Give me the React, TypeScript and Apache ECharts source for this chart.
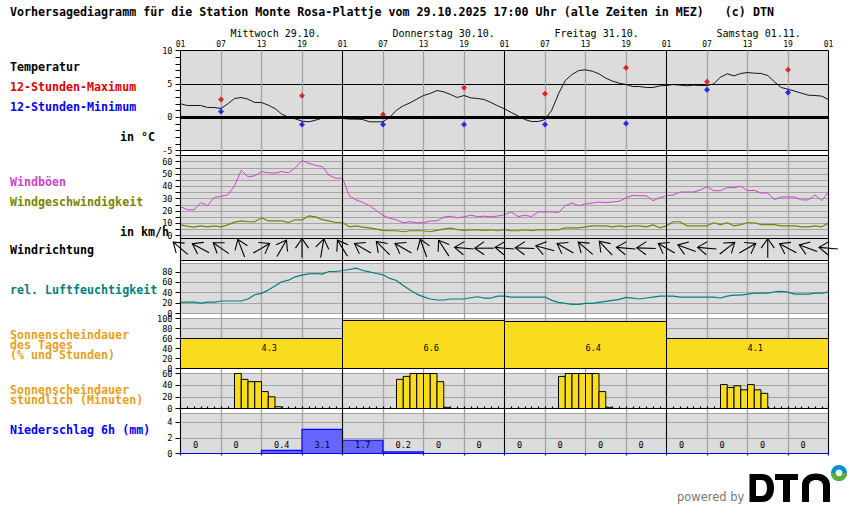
import { useEffect, useRef } from "react";
import * as echarts from "echarts";

const titleText = "Vorhersagediagramm für die Station Monte Rosa-Plattje vom 29.10.2025 17:00 Uhr (alle Zeiten in MEZ)   (c) DTN";
const dayLabels = ["Mittwoch 29.10.", "Donnerstag 30.10.", "Freitag 31.10.", "Samstag 01.11."];
const hourLabels = ["01", "07", "13", "19", "01", "07", "13", "19", "01", "07", "13", "19", "01", "07", "13", "19", "01"];

// hourly from 01:00 on Wednesday
const temperature = [
  2.0, 1.75, 1.75, 1.75, 1.45, 1.45, 1.3, 2.0, 2.8, 2.95,
  2.7, 2.2, 2.2, 1.8, 1.3, 0.45, 0, -0.25, -0.6, -0.7,
  -0.45, -0.15, 0, 0, -0.2, -0.3, -0.3, -0.35, -0.7, -0.7,
  -0.7, 0, 1.05, 1.7, 2.15, 2.7, 3.25, 3.55, 4.0, 3.8,
  3.4, 2.95, 3.25, 2.9, 2.8, 2.65, 2.2, 1.7, 1.25, 0.7,
  0.2, -0.35, -0.65, -0.65, -0.35, 1.05, 3.5, 5.5, 6.4, 7.0,
  7.1, 6.9, 6.5, 5.85, 5.4, 5.1, 4.9, 4.6, 4.6, 4.45,
  4.45, 4.7, 4.75, 4.9, 4.8, 4.7, 4.8, 4.75, 4.75, 5.0,
  6, 6.5, 6.2, 6.55, 6.7, 6.6, 6.55, 6.25, 5.3, 4.45,
  4.2, 3.9, 3.6, 3.3, 3.25, 3.15, 2.65,
];
const extremeHours = [6, 18, 30, 42, 54, 66, 78, 90];
const tempMax = [2.65, 3.2, 0.4, 4.4, 3.5, 7.4, 5.3, 7.1];
const tempMin = [0.85, -1.1, -1.1, -1.1, -1.1, -0.95, 4.1, 3.7];

const gusts = [
  23.6, 21, 21, 26.8, 24.4, 31, 32, 33, 40.5, 53,
  47.7, 48.5, 52, 51, 50.7, 52, 51, 55, 61, 58.7,
  57, 56, 49, 46.6, 46.6, 32.4, 29, 27, 24.4, 20.4,
  16.4, 14.2, 12.9, 10.5, 11.3, 10.5, 10.5, 12, 12, 15,
  15.8, 14.5, 15.3, 16.6, 15.5, 15.8, 15.3, 16, 16.9, 19.3,
  15.5, 16.6, 15.5, 19.3, 19.3, 19.3, 18.8, 24.4, 26.5, 24.4,
  25.7, 26.5, 27.3, 26.8, 27.3, 27.9, 30.6, 32.7, 32.4, 32.4,
  28.4, 30.8, 32.4, 33, 35.4, 35.4, 35.4, 37, 39.7, 36.5,
  36.5, 39, 38.9, 40, 36.5, 36.7, 34.6, 34.6, 29.2, 31.4,
  31.4, 31.4, 29, 29, 33, 28.4, 35.4,
];
const windSpeed = [
  8.8, 7.8, 7, 8, 7.2, 8, 7.2, 8.8, 11, 12,
  11.3, 11.3, 14.5, 12, 12, 12, 10.7, 12.9, 12.9, 16,
  15.3, 13, 12, 10.7, 10.7, 7.2, 8, 7, 6.4, 5.4,
  4.3, 4, 4, 3.2, 4, 4, 4, 3.2, 4.3, 5.4,
  6.2, 5, 4.3, 4.8, 4.8, 4.3, 4.8, 4, 4.8, 4,
  4, 4.8, 4, 4.8, 4.8, 4.8, 4.8, 6.4, 6.4, 6.4,
  7.2, 8, 8, 8, 7.2, 8, 7.2, 8, 8, 7.2,
  8.8, 6.4, 8, 11.3, 11.3, 8, 8, 8, 8, 10.5,
  9, 10.5, 8, 9, 10.5, 10.5, 9, 9, 9, 8,
  8, 8, 7.2, 7.2, 8, 7.2, 10.2,
];
// compass bearing the arrow points to, every 3 hours
const windArrows = [
  310, 298, 305, 339, 60, 30, 0, 10, 328, 300, 315,
  300, 340, 327, 275, 270, 275, 272, 285, 300, 310, 317,
  275, 272, 300, 290, 275, 52, 60, 0, 298, 290, 275,
];
const humidity = [
  21.4, 22, 22, 20, 22, 22, 24, 24, 24, 24,
  27.8, 36, 38.6, 45, 53, 61, 64, 70.4, 73.6, 76,
  76.8, 75.5, 80.6, 80.6, 82.5, 84.5, 87, 82.5, 80, 76.8,
  74.3, 67.3, 63.4, 53.9, 45, 37.3, 32, 27.8, 25.9, 25.9,
  27.8, 27.8, 27.8, 30.3, 32.2, 29.7, 29.7, 33.5, 33.5, 31.6,
  31.6, 31.6, 31.6, 31.6, 31.6, 25.2, 21.4, 19.5, 17.6, 17.6,
  19.5, 19.5, 21.4, 23.3, 25.2, 27, 31, 29.7, 27.8, 29.7,
  31.6, 33.5, 33.5, 33.5, 31.6, 31.6, 31.6, 31.6, 31.6, 31.6,
  29.7, 33.5, 35.4, 35.4, 37.3, 39.2, 39.2, 39.2, 41.8, 42.4,
  41, 37.3, 37.3, 37.3, 39.2, 39.2, 41,
];
const sunDayPercent = [60, 96, 94, 60];
const sunDayHours = ["4.3", "6.6", "6.4", "4.1"];
const sunHourMinutes = [
  0, 0, 0, 0, 0, 0, 0, 0, 60, 50, 46, 46, 29, 20, 3, 0, 0, 0, 0, 0, 0, 0, 0, 0,
  0, 0, 0, 0, 0, 0, 0, 0, 50, 55, 60, 60, 60, 60, 46, 2, 0, 0, 0, 0, 0, 0, 0, 0,
  0, 0, 0, 0, 0, 0, 0, 0, 55, 60, 60, 60, 60, 60, 29, 2, 0, 0, 0, 0, 0, 0, 0, 0,
  0, 0, 0, 0, 0, 0, 0, 0, 41, 36, 39, 32, 41, 32, 26, 0, 0, 0, 0, 0, 0, 0, 0, 0,
];
const precip = [0, 0, 0.4, 3.1, 1.7, 0.2, 0, 0, 0, 0, 0, 0, 0, 0, 0, 0];

const LEFT = 180.5;
const WIDTH = 648;
const MONO = '"DejaVu Sans Mono", "Liberation Mono", monospace';
const GREY = "#a4a4a4";
const PANEL = "#dcdcdc";
const YELLOW = "#f9dc1e";
const TICK_FONT = 8.6;

const DTN_LOGO =
  "M749.5 474H762C770 474 774 480 774 488C774 496 770 502 762 502H749.5Z" +
  "M756 480V496H761C765 496 767 493 767 488C767 483 765 480 761 480Z" +
  "M775 474H798V480H790V502H783V480H775Z" +
  "M802 502V485C802 478 808 473.5 816 473.5C824 473.5 830 478 830 485V502H823V486C823 482 820 480 816 480C812 480 809 482 809 486V502Z";
echarts.graphic.registerShape("dtnLogo", echarts.graphic.extendPath(DTN_LOGO, {}));

const hourly = (values: number[]) => values.map((v, i) => [i, v]);

function sideLabel(text: string, x: number, y: number, fill: string) {
  return {
    type: "text",
    x,
    y,
    silent: true,
    style: { text, fill, font: `bold 11.65px ${MONO}`, lineHeight: 9, textVerticalAlign: "middle" },
  };
}

function panelXAxis(gridIndex: number, extra: object = {}) {
  return {
    type: "value",
    gridIndex,
    min: 0,
    max: 96,
    interval: 6,
    axisLabel: { show: false },
    axisTick: { show: false },
    axisLine: { show: false },
    splitLine: { show: false },
    ...extra,
  };
}

const tickLabel = { color: "#000", fontFamily: MONO, fontSize: TICK_FONT, margin: 8 };

function panelYAxis(gridIndex: number, min: number, max: number, interval: number, extra: object = {}) {
  return {
    type: "value",
    gridIndex,
    min,
    max,
    interval,
    axisLine: { show: true, lineStyle: { color: "#000" } },
    axisTick: { show: true, length: 5, lineStyle: { color: "#000" } },
    axisLabel: { ...tickLabel, showMaxLabel: false },
    splitLine: { show: true, lineStyle: { color: GREY, width: 1 } },
    ...extra,
  };
}

// spans one bar from hour start to hour end, through the panel's own axes
function spanBars(stroke: string, fill: string, lineWidth: number, labelOf?: (i: number) => string, labelAt?: (api: any, start: number, end: number) => number[]) {
  return (params: any, api: any) => {
    const start = api.value(0);
    const end = api.value(1);
    const a = api.coord([start, api.value(2)]);
    const b = api.coord([end, 0]);
    const children: any[] = [
      {
        type: "rect",
        shape: { x: a[0], y: a[1], width: b[0] - a[0], height: b[1] - a[1] },
        style: { fill, stroke, lineWidth },
      },
    ];
    if (labelOf && labelAt) {
      const pos = labelAt(api, start, end);
      children.push({
        type: "text",
        x: pos[0],
        y: pos[1],
        style: { text: labelOf(params.dataIndex), fill: "#000", font: `${TICK_FONT}px ${MONO}`, textVerticalAlign: "middle" },
      });
    }
    return { type: "group", children };
  };
}

function renderArrow(params: any, api: any) {
  const [cx, cy] = api.coord([api.value(0), 12.3]);
  const rad = (api.value(1) * Math.PI) / 180;
  const ux = Math.sin(rad);
  const uy = -Math.cos(rad);
  const tip = [cx + ux * 9.5, cy + uy * 9.5];
  const tail = [cx - ux * 9.5, cy - uy * 9.5];
  const barb = (sign: number) => {
    const a = rad + Math.PI + (sign * 35 * Math.PI) / 180;
    return [tip[0] + Math.sin(a) * 11.5, tip[1] - Math.cos(a) * 11.5];
  };
  const style = { stroke: "#000", lineWidth: 1.1, fill: "none" };
  return {
    type: "group",
    children: [
      { type: "polyline", shape: { points: [tail, tip] }, style },
      { type: "polyline", shape: { points: [barb(1), tip, barb(-1)] }, style },
    ],
  };
}

const flatMark = (data: object[], color = "#000", width = 1) => ({
  silent: true,
  symbol: "none",
  animation: false,
  label: { show: false },
  lineStyle: { color, width, type: "solid" },
  data,
});

export default function App() {
  const ref = useRef<HTMLDivElement>(null);

  useEffect(() => {
    document.body.style.margin = "0";
    const el = ref.current;
    if (!el) return;
    const chart = echarts.init(el, undefined, { renderer: "svg" });

    const panel = (top: number, bottom: number, border = true) => ({
      left: LEFT,
      width: WIDTH,
      top,
      height: bottom - top,
      show: true,
      backgroundColor: PANEL,
      borderColor: "#000",
      borderWidth: border ? 1 : 0,
    });

    chart.setOption({
      animation: false,
      backgroundColor: "#fff",
      grid: [
        panel(50.5, 150.5),
        panel(155.5, 235.7, false),
        panel(235.7, 260.5, false),
        panel(263.5, 313.5),
        panel(318.5, 368.5),
        panel(373.5, 408.5),
        panel(413.5, 453.5),
        { left: LEFT, width: WIDTH, top: 50.5, height: 403, show: false },
      ],
      xAxis: [
        panelXAxis(0),
        panelXAxis(1),
        panelXAxis(2),
        panelXAxis(3),
        panelXAxis(4),
        panelXAxis(5, {
          axisLine: { show: true, onZero: true, lineStyle: { color: "#000", width: 1 } },
          axisTick: { show: true, inside: true, length: 2, lineStyle: { color: "#000", width: 1.2 } },
          minorTick: { show: true, splitNumber: 6, length: 2, lineStyle: { color: "#000", width: 1.2 } },
        }),
        panelXAxis(6, {
          axisLine: { show: true, onZero: true, lineStyle: { color: "#0000ff", width: 1.2 } },
          axisTick: { show: true, length: 2, lineStyle: { color: "#0000ff", width: 1.2 } },
        }),
        panelXAxis(7, {
          position: "top",
          axisLabel: {
            show: true,
            color: "#000",
            fontFamily: MONO,
            fontSize: 8,
            margin: 2,
            formatter: (v: number) => hourLabels[v / 6] ?? "",
          },
          splitLine: { show: true, lineStyle: { color: GREY, width: 1.3 } },
        }),
      ],
      yAxis: [
        panelYAxis(0, -5, 10, 5, {
          axisLabel: tickLabel,
          minorTick: { show: true, splitNumber: 5, length: 5, lineStyle: { color: "#000" } },
          splitLine: { show: true, lineStyle: { color: "#000", width: 1 } },
        }),
        panelYAxis(1, 0, 65, 5, {
          axisLabel: {
            ...tickLabel,
            formatter: (v: number) => (v % 10 === 0 ? String(v) : ""),
          },
        }),
        panelYAxis(2, 0, 24.8, 24.8, { axisLabel: { show: false }, axisTick: { show: false }, splitLine: { show: false } }),
        panelYAxis(3, 0, 96, 20),
        panelYAxis(4, 0, 100, 20, { axisLabel: tickLabel }),
        panelYAxis(5, 0, 60, 20, { axisLabel: tickLabel }),
        panelYAxis(6, 0, 5.13, 2),
        {
          type: "value",
          gridIndex: 7,
          min: 0,
          max: 1,
          axisLabel: { show: false },
          axisTick: { show: false },
          axisLine: { show: false },
          splitLine: { show: false },
        },
      ],
      series: [
        {
          type: "line",
          xAxisIndex: 0,
          yAxisIndex: 0,
          data: hourly(temperature),
          showSymbol: false,
          lineStyle: { color: "#000", width: 0.9 },
          markLine: flatMark([{ yAxis: 0 }], "#000", 3),
        },
        {
          type: "scatter",
          xAxisIndex: 0,
          yAxisIndex: 0,
          data: extremeHours.map((h, i) => [h, tempMax[i]]),
          symbol: "diamond",
          symbolSize: 6,
          itemStyle: { color: "#e00000" },
        },
        {
          type: "scatter",
          xAxisIndex: 0,
          yAxisIndex: 0,
          data: extremeHours.map((h, i) => [h, tempMin[i]]),
          symbol: "diamond",
          symbolSize: 6,
          itemStyle: { color: "#0000ff" },
        },
        {
          type: "line",
          xAxisIndex: 1,
          yAxisIndex: 1,
          data: hourly(gusts),
          showSymbol: false,
          lineStyle: { color: "#cc44cc", width: 1 },
          markLine: flatMark([{ yAxis: 65 }]),
        },
        {
          type: "line",
          xAxisIndex: 1,
          yAxisIndex: 1,
          data: hourly(windSpeed),
          showSymbol: false,
          lineStyle: { color: "#808000", width: 1.2 },
        },
        {
          type: "custom",
          xAxisIndex: 2,
          yAxisIndex: 2,
          data: windArrows.map((deg, i) => [i * 3, deg]),
          renderItem: renderArrow,
          clip: false,
          silent: true,
        },
        {
          type: "line",
          xAxisIndex: 2,
          yAxisIndex: 2,
          data: [[0, 0]],
          showSymbol: false,
          lineStyle: { width: 0 },
          markLine: flatMark([{ yAxis: 22.2 }, { yAxis: 0 }]),
        },
        {
          type: "line",
          xAxisIndex: 3,
          yAxisIndex: 3,
          data: hourly(humidity),
          showSymbol: false,
          lineStyle: { color: "#008080", width: 1.2 },
        },
        {
          type: "custom",
          xAxisIndex: 4,
          yAxisIndex: 4,
          data: sunDayPercent.map((p, i) => [i * 24, (i + 1) * 24, p]),
          renderItem: spanBars(
            "#000",
            YELLOW,
            1,
            (i) => sunDayHours[i],
            (api, start, end) => api.coord([(start + end) / 2, 42]),
          ),
          silent: true,
        },
        {
          type: "custom",
          xAxisIndex: 5,
          yAxisIndex: 5,
          data: hourly(sunHourMinutes)
            .filter((d) => d[1] > 0)
            .map((d) => [d[0], d[0] + 1, d[1]]),
          renderItem: spanBars("#000", YELLOW, 1),
          silent: true,
        },
        {
          type: "custom",
          xAxisIndex: 6,
          yAxisIndex: 6,
          data: precip.map((p, i) => [i * 6, (i + 1) * 6, p]),
          renderItem: spanBars(
            "#0000ff",
            "#6666ff",
            1.2,
            (i) => (precip[i] === 0 ? "0" : precip[i].toFixed(1)),
            (api, start) => api.coord([start + 1.85, 1.05]),
          ),
          silent: true,
        },
        {
          // black day boundaries running through all panels
          type: "line",
          xAxisIndex: 7,
          yAxisIndex: 7,
          data: [[0, 0]],
          showSymbol: false,
          lineStyle: { width: 0 },
          z: 5,
          markLine: flatMark([{ xAxis: 0 }, { xAxis: 24 }, { xAxis: 48 }, { xAxis: 72 }, { xAxis: 96 }], "#000", 1),
        },
      ],
      graphic: [
        sideLabel(titleText, 10, 12, "#000"),
        ...dayLabels.map((text, i) => ({
          type: "text",
          x: LEFT + 50 + i * 162,
          y: 33,
          silent: true,
          style: { text, fill: "#000", font: `10px ${MONO}`, textVerticalAlign: "middle" },
        })),
        sideLabel("Temperatur", 10, 67, "#000"),
        sideLabel("12-Stunden-Maximum", 10, 87, "#e00000"),
        sideLabel("12-Stunden-Minimum", 10, 107, "#0000ff"),
        sideLabel("in °C", 120, 137, "#000"),
        sideLabel("Windböen", 10, 182, "#cc44cc"),
        sideLabel("Windgeschwindigkeit", 10, 202, "#808000"),
        sideLabel("in km/h", 120, 232, "#000"),
        sideLabel("Windrichtung", 10, 250, "#000"),
        sideLabel("rel. Luftfeuchtigkeit", 10, 290, "#008080"),
        sideLabel("Sonnenscheindauer", 10, 335, "#e8a020"),
        sideLabel("des Tages", 10, 345, "#e8a020"),
        sideLabel("(% und Stunden)", 10, 354.5, "#e8a020"),
        sideLabel("Sonnenscheindauer", 10, 390, "#e8a020"),
        sideLabel("stündlich (Minuten)", 10, 400, "#e8a020"),
        sideLabel("Niederschlag 6h (mm)", 10, 430, "#0000ff"),
        {
          type: "text",
          x: 677,
          y: 497,
          silent: true,
          style: { text: "powered by", fill: "#777", font: '11.5px "DejaVu Sans"', textVerticalAlign: "middle" },
        },
        { type: "dtnLogo", x: 0, y: 0, silent: true, style: { fill: "#000" } },
        { type: "ring", silent: true, shape: { cx: 839, cy: 473, r: 8, r0: 3.5 }, style: { fill: "#0090d0" } },
        {
          type: "sector",
          silent: true,
          shape: { cx: 839, cy: 473, r: 8, r0: 3.5, startAngle: 0, endAngle: Math.PI },
          style: { fill: "#60b030" },
        },
      ],
    });

    return () => {
      chart.dispose();
    };
  }, []);

  return <div ref={ref} style={{ width: 850, height: 524 }} />;
}
